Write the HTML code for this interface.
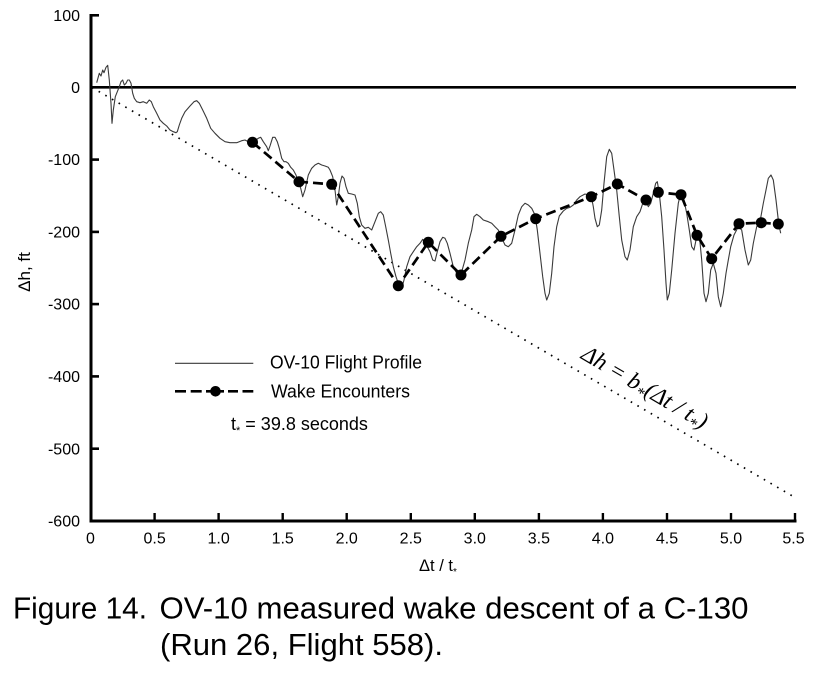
<!DOCTYPE html>
<html><head><meta charset="utf-8"><style>
html,body{margin:0;padding:0;background:#fff;}
svg{display:block;}
text{font-family:"Liberation Sans",Arial,sans-serif;fill:#000;}
text.eq{font-family:"Liberation Serif","Times New Roman",serif;font-style:italic;}
</style></head><body>
<svg width="824" height="674" viewBox="0 0 824 674" xmlns="http://www.w3.org/2000/svg">
<!-- dotted theory line -->
<line x1="92" y1="87.5" x2="795" y2="497.5" stroke="#000" stroke-width="1.7" stroke-dasharray="1.6 6.1"/>
<!-- zero line -->
<line x1="91" y1="87.3" x2="796" y2="87.3" stroke="#000" stroke-width="2.6"/>
<!-- axes -->
<line x1="91" y1="14" x2="91" y2="522.5" stroke="#000" stroke-width="3"/>
<line x1="89.5" y1="521" x2="796.5" y2="521" stroke="#000" stroke-width="3"/>
<!-- y ticks -->
<g stroke="#000" stroke-width="2.6">
<line x1="91" y1="15.3" x2="99" y2="15.3"/>
<line x1="91" y1="159.6" x2="99" y2="159.6"/>
<line x1="91" y1="231.9" x2="99" y2="231.9"/>
<line x1="91" y1="304.1" x2="99" y2="304.1"/>
<line x1="91" y1="376.4" x2="99" y2="376.4"/>
<line x1="91" y1="448.7" x2="99" y2="448.7"/>
</g>
<!-- x ticks -->
<g stroke="#000" stroke-width="2.4">
<line x1="154.6" y1="513" x2="154.6" y2="521"/>
<line x1="218.6" y1="513" x2="218.6" y2="521"/>
<line x1="282.7" y1="513" x2="282.7" y2="521"/>
<line x1="346.7" y1="513" x2="346.7" y2="521"/>
<line x1="410.8" y1="513" x2="410.8" y2="521"/>
<line x1="474.8" y1="513" x2="474.8" y2="521"/>
<line x1="538.9" y1="513" x2="538.9" y2="521"/>
<line x1="602.9" y1="513" x2="602.9" y2="521"/>
<line x1="667.0" y1="513" x2="667.0" y2="521"/>
<line x1="731.0" y1="513" x2="731.0" y2="521"/>
<line x1="795.0" y1="513" x2="795.0" y2="521"/>
</g>
<!-- y labels -->
<g font-size="16" text-anchor="end">
<text x="80" y="21">100</text>
<text x="80" y="93">0</text>
<text x="80" y="165.2">-100</text>
<text x="80" y="237.5">-200</text>
<text x="80" y="309.7">-300</text>
<text x="80" y="382">-400</text>
<text x="80" y="454.3">-500</text>
<text x="80" y="526.6">-600</text>
</g>
<!-- x labels -->
<g font-size="16" text-anchor="middle">
<text x="90.5" y="543.5">0</text>
<text x="154.6" y="543.5">0.5</text>
<text x="218.6" y="543.5">1.0</text>
<text x="282.7" y="543.5">1.5</text>
<text x="346.7" y="543.5">2.0</text>
<text x="410.8" y="543.5">2.5</text>
<text x="474.8" y="543.5">3.0</text>
<text x="538.9" y="543.5">3.5</text>
<text x="602.9" y="543.5">4.0</text>
<text x="667.0" y="543.5">4.5</text>
<text x="731.0" y="543.5">5.0</text>
<text x="793.5" y="543.5">5.5</text>
</g>
<!-- axis titles -->
<text x="419" y="571" font-size="16.5">Δt / t<tspan font-size="10" dy="4">*</tspan></text>
<text transform="translate(30,272) rotate(-90)" font-size="17" text-anchor="middle">Δh, ft</text>

<!-- flight profile -->
<polyline fill="none" stroke="#3a3a3a" stroke-width="1.1" stroke-linejoin="round" points="
96.7,82.7 99.3,73.3 101,76 102.7,70 104,72.7 106,67.3 107.7,65.3 109.3,80 111,103.3 112,123.3 113.3,110 115.3,96.7 117.3,91.7 119.3,86.7 121,81.7 122.7,80 124.3,85 126,83.3 127.7,80 129.3,80 131,83.3 132.7,93.3 134.3,98.3 136.7,101.7 140,102.7 143.3,101.7 146.7,103.3 149.3,100 151.3,101.7 153.3,106.7 156.7,113.3 160,120 163.3,123.3 166.7,126 170,130 173.3,131.7 176,132.7 177.3,131.7 179.3,125 181.7,118.3 185,111.7 190,106 194,101.7 196.7,100.7 199.3,103.3 202.7,110 206.7,118.3 210.7,128.3 215,133.3 220,138.3 225,141.7 230,142.7 236.7,142.7 241.7,140.7 245,140 248.3,141.7 253.3,141.7 258.3,138.3 260.7,137.3 263.3,141.7 266.7,146.7 268.3,150.7 270,146 272.7,137.3 275,137.3 277.3,141.7 279.3,148.3 281.7,158.3 284,161.7 286,161.7 288.3,163.3 290.7,167.3 293.3,170 296,175 298.3,181.7 300.7,188.3 302.7,196.7 305,190 308.3,175 311.7,168.3 315,165 318.3,163.3 321.7,165 325,166 328.3,167.3 330,170 332.7,176.7 335,190 336.7,205 338.3,196.7 340,183.3 342,176 344,178.3 346,186.7 348.3,193.3 351.7,194 355,195 357.3,203.3 359.3,216.7 361.7,225 365,228.3 368.3,227.3 371.7,230 375,221.7 378.3,213.3 380.7,211.7 383.3,215 385.7,226.7 388.3,240 390.7,253.3 393.3,266.7 396,276.7 398.3,283.3 400,286.7 401.7,288.3 404,280 406.7,266.7 410,256.7 413.3,251.7 416.7,246.7 420,243.3 422.7,239.3 425,243.3 427.3,246.7 430,251.7 432.7,260 435,261 437.3,251.7 440,241.7 442.7,237.3 445,238.3 447.3,243.3 450,253.3 453.3,266.7 456.7,273.3 459.3,275 461.7,271.7 465,260 468.3,243.3 471.7,230 474,216.7 476.7,214.3 480,216.7 483.3,220 488.3,221.7 491.7,223.3 495,226.7 498.3,230 500.7,235 502.7,240 505,245 508.3,246.7 511.7,243.3 515,230 518.3,215 521.7,206.7 525,203.3 528.3,205 531.7,208.3 535,215 537.3,230 540,253.3 542.7,276.7 545,293.3 546.7,300 549.3,293.3 551.7,273.3 554,246.7 556.7,226.7 559.3,216 563.3,211 566.7,208.3 570,207.3 573.3,205 576.7,200 580,196.7 585,194 588.3,195 591.7,198.3 593.3,206.7 595,218.3 597.3,226.7 599.3,225 601.7,210 604,183.3 606.7,156.7 609.3,149.3 611.7,153.3 614,170 616.7,190 619.3,216.7 621.7,240 625,256.7 627.3,260 630,250 633.3,226.7 636.7,216.7 640,211.7 643.3,201.7 646,200 648.3,206.7 650.7,203.3 653.3,193.3 655.7,183.3 657.3,181.7 659.3,193.3 661.7,216.7 664,250 666,283.3 667.3,300 669.3,293.3 671.7,270 675,233.3 678.3,203.3 680.7,193.3 683.3,196.7 686.7,213.3 689.3,230 691.7,246.7 694,250 696.7,236.7 699.3,235 701.7,260 704,293.3 706,301.7 708.3,293.3 710.7,270 713.3,263.3 716,273.3 718.3,296.7 720.7,306.7 723.3,293.3 726,273.3 728.3,260 730.7,246.7 734,235 738.3,226.7 741.7,230 745,250 748.3,265 750.7,260 753.3,243.3 756.7,226.7 760,221.7 763.3,203.3 766,190 768.3,178.3 771,175 773.3,180 776,200 778.3,220 780,230 780.7,233.3"/>

<!-- wake encounters dashed line -->
<polyline fill="none" stroke="#000" stroke-width="2.7" stroke-dasharray="10 5" points="252.5,142.3 299,181.7 331.7,184.3 398.3,285.7 428.3,242.3 461,275 501,236.3 535.7,218.7 591.3,196.7 617.3,184 646,200 658.3,192.3 681,194.7 697,235.3 711.7,258.7 739,223.7 761.3,222.7 778.3,224"/>
<g fill="#000">
<circle cx="252.5" cy="142.3" r="5.5"/>
<circle cx="299" cy="181.7" r="5.5"/>
<circle cx="331.7" cy="184.3" r="5.5"/>
<circle cx="398.3" cy="285.7" r="5.5"/>
<circle cx="428.3" cy="242.3" r="5.5"/>
<circle cx="461" cy="275" r="5.5"/>
<circle cx="501" cy="236.3" r="5.5"/>
<circle cx="535.7" cy="218.7" r="5.5"/>
<circle cx="591.3" cy="196.7" r="5.5"/>
<circle cx="617.3" cy="184" r="5.5"/>
<circle cx="646" cy="200" r="5.5"/>
<circle cx="658.3" cy="192.3" r="5.5"/>
<circle cx="681" cy="194.7" r="5.5"/>
<circle cx="697" cy="235.3" r="5.5"/>
<circle cx="711.7" cy="258.7" r="5.5"/>
<circle cx="739" cy="223.7" r="5.5"/>
<circle cx="761.3" cy="222.7" r="5.5"/>
<circle cx="778.3" cy="224" r="5.5"/>
</g>

<!-- legend -->
<line x1="175" y1="363.3" x2="253.3" y2="363.3" stroke="#3a3a3a" stroke-width="1.1"/>
<text x="270" y="368.5" font-size="18" textLength="152" lengthAdjust="spacingAndGlyphs">OV-10 Flight Profile</text>
<g stroke="#000" stroke-width="2.6">
<line x1="175" y1="391.3" x2="186" y2="391.3"/>
<line x1="190.7" y1="391.3" x2="201.7" y2="391.3"/>
<line x1="206" y1="391.3" x2="224" y2="391.3"/>
<line x1="228" y1="391.3" x2="238" y2="391.3"/>
<line x1="242.5" y1="391.3" x2="253.3" y2="391.3"/>
</g>
<circle cx="215.5" cy="391.3" r="5.3" fill="#000"/>
<text x="271" y="397.3" font-size="18" textLength="139" lengthAdjust="spacingAndGlyphs">Wake Encounters</text>
<text x="231" y="430" font-size="18">t<tspan font-size="11" dy="4">*</tspan><tspan dy="-4"> = 39.8 seconds</tspan></text>

<!-- equation -->
<text class="eq" transform="translate(580,358) rotate(30.3)" font-size="23.5">Δh = b<tspan font-size="16" dy="5">*</tspan><tspan dy="-5">(Δt / t</tspan><tspan font-size="16" dy="5">*</tspan><tspan dy="-5">)</tspan></text>

<!-- caption -->
<text x="13" y="618.5" font-size="31" textLength="134" lengthAdjust="spacingAndGlyphs">Figure 14.</text>
<text x="159.5" y="618.5" font-size="31" textLength="589" lengthAdjust="spacingAndGlyphs">OV-10 measured wake descent of a C-130</text>
<text x="160" y="655" font-size="31" textLength="283" lengthAdjust="spacingAndGlyphs">(Run 26, Flight 558).</text>
</svg>
</body></html>
